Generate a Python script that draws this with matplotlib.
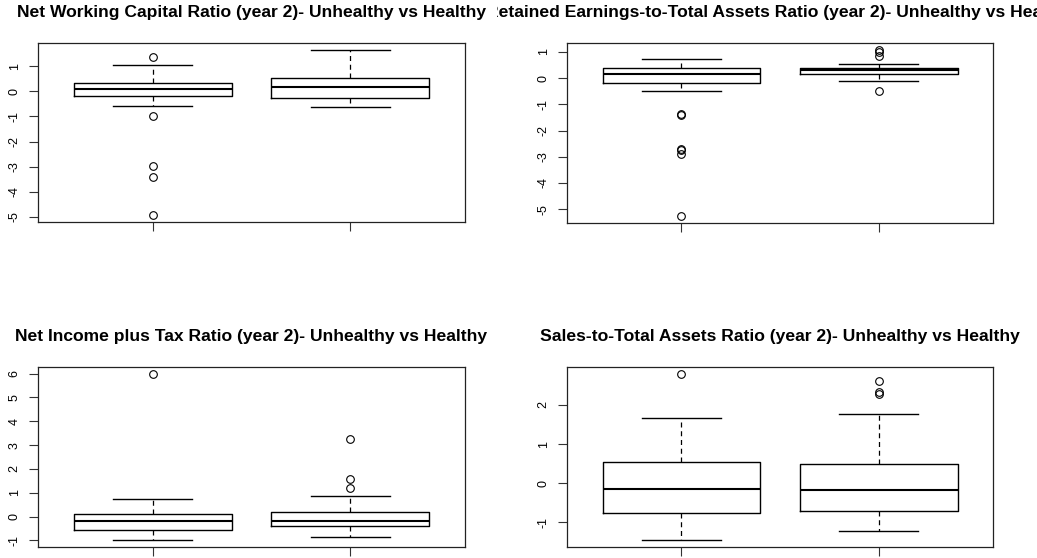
import matplotlib
matplotlib.use("Agg")
import matplotlib.pyplot as plt
from matplotlib.ticker import MultipleLocator
from matplotlib.transforms import Bbox, TransformedBbox

plt.rcParams['font.family'] = ['Liberation Sans', 'DejaVu Sans']
plt.rcParams['axes.unicode_minus'] = False

groups = ["Unhealthy", "Healthy"]

titles = [
    "Net Working Capital Ratio (year 2)- Unhealthy vs Healthy",
    "Retained Earnings-to-Total Assets Ratio (year 2)- Unhealthy vs Healthy",
    "Net Income plus Tax Ratio (year 2)- Unhealthy vs Healthy",
    "Sales-to-Total Assets Ratio (year 2)- Unhealthy vs Healthy",
]

# five-number summaries per ratio: [unhealthy, healthy]
whislo = [[-0.57, -0.62], [-0.48, -0.11], [-1.00, -0.84], [-1.46, -1.22]]
q1 = [[-0.17, -0.25], [-0.19, 0.16], [-0.57, -0.40], [-0.77, -0.70]]
med = [[0.09, 0.17], [0.16, 0.30], [-0.18, -0.18], [-0.14, -0.17]]
q3 = [[0.34, 0.54], [0.37, 0.40], [0.10, 0.18], [0.53, 0.48]]
whishi = [[1.05, 1.66], [0.71, 0.52], [0.74, 0.88], [1.67, 1.76]]

# outlying observations
fliers = [
    [[1.36, -0.98, -2.96, -3.40, -4.94], []],
    [[-1.36, -1.42, -2.70, -2.75, -2.89, -5.27], [1.08, 0.98, 0.85, -0.48]],
    [[6.00], [3.27, 1.57, 1.18]],
    [[2.80], [2.62, 2.34, 2.29]],
]

W, H = 1037, 558
fig = plt.figure(figsize=(W / 100, H / 100), dpi=100)

axes_rects = [
    (38, 43, 427, 179),
    (567, 43, 426, 180),
    (38, 367, 427, 180),
    (567, 367, 426, 180),
]

for i, (x0, y0, w, h) in enumerate(axes_rects):
    ax = fig.add_axes([x0 / W, 1 - (y0 + h) / H, w / W, h / H])
    stats = []
    for j, g in enumerate(groups):
        stats.append(dict(label=g, whislo=whislo[i][j], q1=q1[i][j], med=med[i][j],
                          q3=q3[i][j], whishi=whishi[i][j], fliers=fliers[i][j]))
    ax.bxp(stats, positions=[1, 2], widths=0.8, capwidths=0.4,
           boxprops=dict(color="black", linewidth=1.0),
           medianprops=dict(color="black", linewidth=1.5),
           whiskerprops=dict(color="black", linewidth=0.9, linestyle=(0, (4, 3))),
           capprops=dict(color="black", linewidth=1.0),
           flierprops=dict(marker="o", markerfacecolor="none", markeredgecolor="black",
                           markersize=5.5, markeredgewidth=0.8, linestyle="none"))
    ax.set_xlim(0.42, 2.58)
    ax.set_ymargin(0.04)
    ax.autoscale_view(scalex=False, scaley=True)
    ax.yaxis.set_major_locator(MultipleLocator(1))
    ax.set_xticks([1, 2])
    ax.set_xticklabels(["", ""])
    ax.tick_params(axis="both", length=6.5, width=0.8, color="#333333",
                   labelsize=9, pad=6)
    ax.tick_params(axis="y", labelrotation=90)
    for lbl in ax.get_yticklabels():
        lbl.set_va("center")
    for sp in ax.spines.values():
        sp.set_linewidth(0.9)
        sp.set_color("#222222")
    t = ax.set_title(titles[i], fontsize=12.6, fontweight="bold", pad=18.5)
    if i == 1:
        t.set_clip_on(True)
        t.set_clip_box(TransformedBbox(Bbox.from_extents(497 / W, 0, 1, 1),
                                       fig.transFigure))

fig.savefig("out.png", dpi=100)
